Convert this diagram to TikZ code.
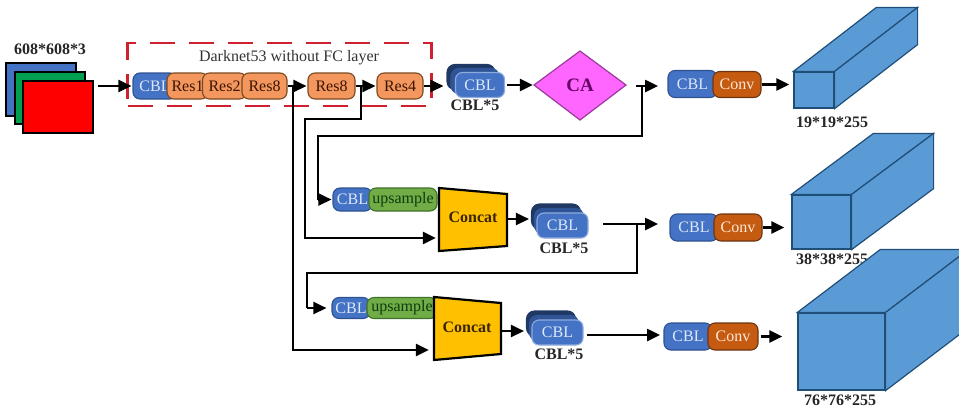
\documentclass[tikz,border=0pt]{standalone}
\usepackage{fontspec}
\setmainfont{Liberation Serif}
\usetikzlibrary{arrows.meta,calc}
\definecolor{cblblue}{HTML}{4472C4}
\definecolor{cblline}{HTML}{2F528F}
\definecolor{cblmid}{HTML}{2F5597}
\definecolor{cblback}{HTML}{1F3864}
\definecolor{cbltext}{HTML}{DDE8F8}
\definecolor{resorange}{HTML}{F4975F}
\definecolor{resline}{HTML}{7A4A20}
\definecolor{restext}{HTML}{3A1500}
\definecolor{upgreen}{HTML}{70AD47}
\definecolor{upline}{HTML}{41702A}
\definecolor{uptext}{HTML}{0E3B0E}
\definecolor{convbrown}{HTML}{C55A11}
\definecolor{convline}{HTML}{6E3410}
\definecolor{convtext}{HTML}{FFE8D6}
\definecolor{cubeblue}{HTML}{5B9BD5}
\definecolor{cubeline}{HTML}{1F4E79}
\definecolor{concatgold}{HTML}{FFC000}
\definecolor{concattext}{HTML}{3B2600}
\definecolor{dashred}{HTML}{D0202F}
\definecolor{camag}{HTML}{FF66FF}
\definecolor{caline}{HTML}{9A3A9A}
\definecolor{catext}{HTML}{660066}
\definecolor{inblue}{HTML}{4472C4}
\definecolor{ingreen}{HTML}{00A050}
\tikzset{
  x=1pt,y=-1pt,
  pill/.style={rounded corners=7pt,draw=#1,line width=1.1pt,inner sep=0pt,font=\fontsize{16}{16}\selectfont},
  cblpill/.style={pill=cblline,fill=cblblue,text=cbltext},
  respill/.style={pill=resline,fill=resorange,text=restext},
  uppill/.style={pill=upline,fill=upgreen,text=uptext},
  convpill/.style={pill=convline,fill=convbrown,text=convtext},
  stackfront/.style={cblpill,draw=cblblue!60!white},
  layer/.style={rounded corners=8pt,draw=#1,fill=#1,line width=1.1pt,inner sep=0pt},
  arr/.style={draw=black,line width=2.5pt,-{Triangle[length=13pt,width=12pt]}},
  wire/.style={draw=black,line width=2.5pt},
  plate/.style={draw=black,line width=1.5pt,inner sep=0pt},
  boldcap/.style={font=\bfseries\fontsize{16}{16}\selectfont,inner sep=0pt,text=black!85},
  cubeface/.style={draw=cubeline,line width=1.2pt,fill=cubeblue,inner sep=0pt},
  dashbox/.style={draw=dashred,line width=2.8pt,dash pattern=on 25pt off 14pt,inner sep=0pt},
  concatbox/.style={inner sep=0pt,font=\bfseries\fontsize{16}{16}\selectfont,text=concattext},
}
\newcommand{\cubetop}[3]{%
  \draw[cubeface] (#1.north west) -- ++(#2,#3) -- ($(#1.north east)+(#2,#3)$) -- (#1.north east) -- cycle;
  \draw[cubeface] (#1.north east) -- ++(#2,#3) -- ($(#1.south east)+(#2,#3)$) -- (#1.south east) -- cycle;
}
\begin{document}
\begin{tikzpicture}
\useasboundingbox (0,0) rectangle (959,413);
\clip (0,0) rectangle (959,413);

% input
\node[boldcap] (inputlabel) at (50,49) {608*608*3};
\node[plate,fill=inblue,minimum width=70pt,minimum height=53pt] (inb) at (41,89.5) {};
\node[plate,fill=ingreen,minimum width=70pt,minimum height=52pt] (ing) at (50,98) {};
\node[plate,fill=red,minimum width=70pt,minimum height=52pt] (inr) at (58,107) {};

% backbone
\node[dashbox,minimum width=304pt,minimum height=63pt] (backbone) at (279.5,74.5) {};
\node[font=\fontsize{16}{16}\selectfont,text=black!80,inner sep=0pt] (backlabel) at (289,58) {Darknet53 without FC layer};
\node[cblpill,minimum width=44pt,minimum height=26pt] (cbl0) at (155,86) {CBL};
\node[respill,minimum width=41pt,minimum height=26pt] (res1) at (187.5,86) {Res1};
\node[respill,minimum width=44pt,minimum height=26pt] (res2) at (224.5,86) {Res2};
\node[respill,minimum width=45pt,minimum height=26pt] (res8a) at (264.5,86) {Res8};
\node[respill,minimum width=47pt,minimum height=26pt] (res8b) at (331.5,86) {Res8};
\node[respill,minimum width=46pt,minimum height=26pt] (res4) at (400,86) {Res4};

% stack 0
\node[layer=cblback,minimum width=48pt,minimum height=25pt] (s0c) at (471,77) {};
\node[layer=cblmid,minimum width=48pt,minimum height=25pt] (s0b) at (475,81) {};
\node[stackfront,minimum width=49pt,minimum height=25pt] (s0) at (480,85) {CBL};
\node[boldcap] (s0label) at (475,105) {CBL*5};

% CA
\draw[draw=caline,line width=1.2pt,fill=camag] (534,85) -- (580,51) -- (626,85) -- (580,120) -- cycle;
\node[font=\bfseries\fontsize{19}{19}\selectfont,text=catext,inner sep=0pt,minimum width=92pt,minimum height=20pt] (ca) at (580,85) {CA};

% head 1
\node[cblpill,minimum width=49pt,minimum height=27pt] (h1a) at (692.5,84) {CBL};
\node[convpill,minimum width=48pt,minimum height=26pt] (h1b) at (737,84.5) {Conv};
\node[cubeface,minimum width=40pt,minimum height=36pt] (cube1) at (814,90) {};
\cubetop{cube1}{83}{-64}
\node[boldcap] (c1label) at (832,122) {19*19*255};

% row 2
\node[cblpill,minimum width=39pt,minimum height=23pt] (u1a) at (352.5,199.5) {CBL};
\node[uppill,minimum width=68pt,minimum height=23pt] (u1b) at (403,199.5) {upsample};
\draw[draw=black,line width=2.2pt,fill=concatgold] (439,188) -- (507,194) -- (507,246) -- (439,251) -- cycle;
\node[concatbox,minimum width=68pt,minimum height=52pt] (concat1) at (473,220) {};
\node[concatbox] (concat1text) at (473,217) {Concat};
\node[layer=cblback,minimum width=49pt,minimum height=25pt] (s1c) at (556,216.5) {};
\node[layer=cblmid,minimum width=49pt,minimum height=25pt] (s1b) at (559,221) {};
\node[stackfront,minimum width=51pt,minimum height=25pt] (s1) at (562.5,225.5) {CBL};
\node[boldcap] (s1label) at (564,248) {CBL*5};
\node[cblpill,minimum width=48pt,minimum height=27pt] (h2a) at (694,227.5) {CBL};
\node[convpill,minimum width=48pt,minimum height=27pt] (h2b) at (738,227.5) {Conv};
\node[cubeface,minimum width=59pt,minimum height=54pt] (cube2) at (821.5,222) {};
\cubetop{cube2}{82}{-61}
\node[boldcap] (c2label) at (832,259) {38*38*255};

% row 3
\node[cblpill,minimum width=38pt,minimum height=21pt] (u2a) at (351,308) {CBL};
\node[uppill,minimum width=70pt,minimum height=21pt] (u2b) at (402,308) {upsample};
\draw[draw=black,line width=2.2pt,fill=concatgold] (434,297) -- (501,303) -- (501,354) -- (434,360) -- cycle;
\node[concatbox,minimum width=67pt,minimum height=52pt] (concat2) at (467.5,329) {};
\node[concatbox] (concat2text) at (467,327) {Concat};
\node[layer=cblback,minimum width=49pt,minimum height=25pt] (s2c) at (551,323.5) {};
\node[layer=cblmid,minimum width=49pt,minimum height=25pt] (s2b) at (554,328) {};
\node[stackfront,minimum width=51pt,minimum height=25pt] (s2) at (557.5,332.5) {CBL};
\node[boldcap] (s2label) at (559,354) {CBL*5};
\node[cblpill,minimum width=48pt,minimum height=27pt] (h3a) at (688,336.5) {CBL};
\node[convpill,minimum width=50pt,minimum height=27pt] (h3b) at (733,336.5) {Conv};
\node[cubeface,minimum width=87pt,minimum height=77pt] (cube3) at (841.5,351.5) {};
\cubetop{cube3}{83}{-63}
\node[boldcap] (c3label) at (840,400) {76*76*255};

% free ends and levels
\coordinate (y219) at (0,219);
\coordinate (y238) at (0,238);
\coordinate (y331) at (0,331);
\coordinate (y350) at (0,350);
\coordinate (t1) at (361,86);
\coordinate (t2) at (293,86);
\coordinate (h1start) at (636,86);
\coordinate (h1in) at (658,86);
\coordinate (h1join) at (642,86);
\coordinate (h2start) at (603,224);
\coordinate (h2in) at (658,224);
\coordinate (h2join) at (637,224);
\coordinate (h3in) at (660,335);
\coordinate (h3out) at (587,335);
\coordinate (u1in) at (318,199.5);
\coordinate (u2in) at (307,308);

% connectors: main line
\draw[arr,shorten <=4pt,shorten >=1pt] (inr.east |- cbl0) -- (cbl0);
\draw[arr,shorten >=1pt] (res8a) -- (res8b);
\draw[arr,shorten >=1pt] (res8b) -- (res4);
\draw[arr,shorten >=3pt] (res4) -- (s0c.west |- res4);
\draw[arr,shorten <=2pt,shorten >=1pt] (s0.east) -- (ca.west);
\draw[arr] (h1start) -- (h1in);

% route to first upsample
\draw[wire,line join=miter] (h1join) -- (642,136) -- (318,136) -- (u1in);
\draw[arr,shorten >=1pt] (u1in) -- (u1a.west);

% skip routes
\draw[arr,shorten >=3pt] (t1) -- (361,119) -- (305,119) -- (305,238) -- (concat1.west |- y238);
\draw[arr,shorten >=5pt] (t2) -- (293,350) -- (concat2.west |- y350);

% concat outputs
\draw[arr,shorten >=2pt] (concat1.east |- y219) -- (s1c.west |- y219);
\draw[arr,shorten >=2pt] (concat2.east |- y331) -- (s2c.west |- y331);

% head 2 and route to second upsample
\draw[arr] (h2start) -- (h2in);
\draw[wire] (h2join) -- (637,273) -- (307,273) -- (u2in);
\draw[arr,shorten >=5pt] (u2in) -- (u2a.west);

% head 3
\draw[arr] (h3out) -- (h3in);

% head outputs
\draw[arr,shorten >=4pt] (h1b.east) -- (h1b.east -| cube1.west);
\draw[arr,shorten >=7pt] (h2b.east) -- (h2b.east -| cube2.west);
\draw[arr,shorten <=2pt,shorten >=15pt] (h3b.east) -- (h3b.east -| cube3.west);
\end{tikzpicture}
\end{document}
